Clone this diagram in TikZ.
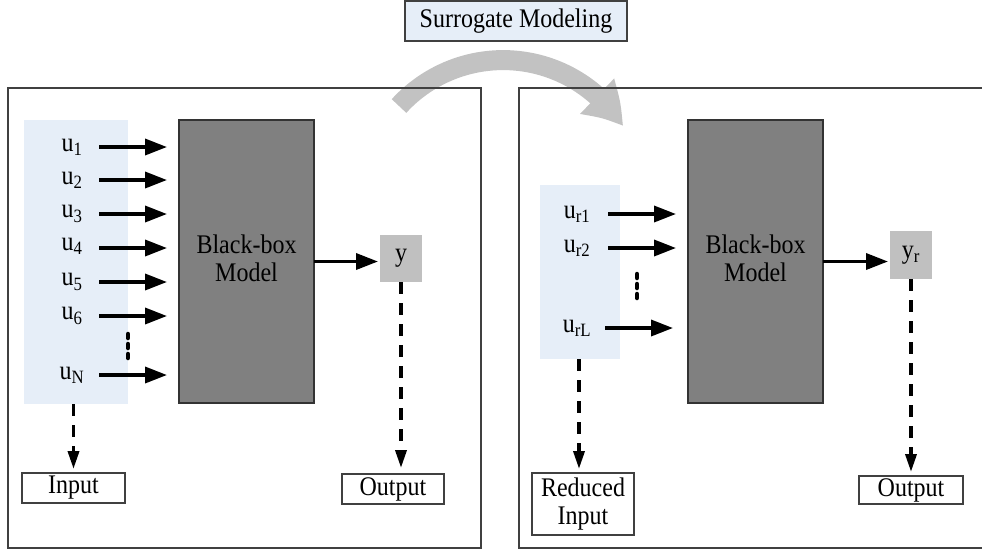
\documentclass[tikz,border=0pt]{standalone}
\usepackage{fontspec}
\setmainfont{Liberation Serif}
\usetikzlibrary{arrows.meta,bending}

\definecolor{framegray}{RGB}{64,64,64}
\definecolor{inbg}{RGB}{230,238,248}
\definecolor{modelgray}{RGB}{128,128,128}
\definecolor{outgray}{RGB}{192,192,192}
\definecolor{flowgray}{RGB}{194,194,194}

% text is set slightly taller than wide
\newcommand\tallt[1]{\scalebox{1}[1.12]{#1}}
\newcommand\twolines[2]{\tallt{\begin{tabular}{@{}c@{}}#1\\[-3pt]#2\end{tabular}}}

\begin{document}
\begin{tikzpicture}[x=1pt,y=-1pt,
  every node/.style={font=\fontsize{24}{28}\selectfont, inner sep=0pt, outer sep=0pt},
  panel/.style={draw=framegray, line width=1.3pt},
  inregion/.style={fill=inbg},
  model/.style={fill=modelgray, draw=black!80, line width=1.3pt, align=center,
    minimum width=135, minimum height=283},
  outbox/.style={fill=outgray, minimum width=42, minimum height=47},
  labelbox/.style={draw=framegray, fill=white, line width=1.3pt, align=center},
  ulabel/.style={minimum width=54, align=center},
  urlabel/.style={minimum width=62, align=center},
  inarrow/.style={line width=3.5pt, -{Triangle[length=22pt,width=16pt]}},
  dasharrow/.style={line width=3.5pt, dash pattern=on 12pt off 9pt,
    -{Triangle[length=18pt,width=11pt]}},
  moredots/.style={line width=4.5pt, line cap=round, dash pattern=on 4pt off 6pt},
  flow/.style={draw=flowgray, line width=20pt,
    -{Triangle[length=40pt,width=46pt,bend]}}
]
\clip (0,0) rectangle (982,550);

% transition arrow between the two panels
\draw[flow] (399,106) arc[start angle=-137.6, end angle=-32, radius=141];

% panels
\draw[panel] (8,88) rectangle (481,548);
\draw[panel] (519,88) rectangle (996,548);

% title
\node[labelbox, fill=inbg, minimum width=222, minimum height=40] (title) at (516,21) {\tallt{Surrogate Modeling}};

% ---------- full model ----------
\node[inregion, minimum width=104, minimum height=284] (inL) at (76,262) {};
\node[model] (bbL) at (246.5,261.5) {\twolines{Black-box}{Model}};
\node[outbox] (yL) at (401,258.5) {\tallt{y}};
\node[labelbox, minimum width=103, minimum height=30] (inputL) at (73.5,488) {\tallt{Input}};
\node[labelbox, minimum width=102, minimum height=30] (outputL) at (393,489) {\tallt{Output}};

\node[ulabel] (u1) at (72,147) {\tallt{u\textsubscript{1}}};
\node[ulabel] (u2) at (72,180) {\tallt{u\textsubscript{2}}};
\node[ulabel] (u3) at (72,214) {\tallt{u\textsubscript{3}}};
\node[ulabel] (u4) at (72,246) {\tallt{u\textsubscript{4}}};
\node[ulabel] (u5) at (72,282) {\tallt{u\textsubscript{5}}};
\node[ulabel] (u6) at (72,316) {\tallt{u\textsubscript{6}}};
\node[ulabel] (uN) at (72,375) {\tallt{u\textsubscript{N}}};

\foreach \u/\yy in {u1/147,u2/180,u3/214,u4/248,u5/282,u6/316,uN/375}
  \draw[inarrow, shorten >=12pt] (99,\yy) -- (bbL.west |- 0,\yy);

\draw[moredots] (128,334) -- (128,358);

\draw[inarrow, shorten >=2pt] (bbL.east) -- (bbL.east -| yL.west);
\draw[dasharrow, shorten >=6pt] (yL.south) -- (yL.south |- outputL.north);
\draw[dasharrow, shorten >=4pt] (inputL.north |- inL.south) -- (inputL.north);

% ---------- reduced model ----------
\node[inregion, minimum width=80, minimum height=174] (inR) at (580,272) {};
\node[model] (bbR) at (755.5,261.5) {\twolines{Black-box}{Model}};
\node[outbox, minimum height=48] (yR) at (911,255) {\tallt{y\textsubscript{r}}};
\node[labelbox, minimum width=102, minimum height=62] (inputR) at (583,504) {\twolines{Reduced}{Input}};
\node[labelbox, minimum width=104, minimum height=28] (outputR) at (911,490) {\tallt{Output}};

\node[urlabel] (ur1) at (577,214) {\tallt{u\textsubscript{r1}}};
\node[urlabel] (ur2) at (577,248) {\tallt{u\textsubscript{r2}}};
\node[urlabel] (urL) at (577,328) {\tallt{u\textsubscript{rL}}};

\draw[inarrow, shorten >=12pt] (ur1.east) -- (ur1.east -| bbR.west);
\draw[inarrow, shorten >=12pt] (ur2.east) -- (ur2.east -| bbR.west);
\draw[inarrow, shorten >=15pt] ([xshift=-3pt]urL.east) -- (urL.east -| bbR.west);

\draw[moredots] (637,274) -- (637,298);

\draw[inarrow, shorten >=2pt] (bbR.east) -- (bbR.east -| yR.west);
\draw[dasharrow, shorten >=4pt] (yR.south) -- (yR.south |- outputR.north);
\draw[dasharrow, shorten >=4pt] (inR.south -| 579,0) -- (579,473);
\end{tikzpicture}
\end{document}
